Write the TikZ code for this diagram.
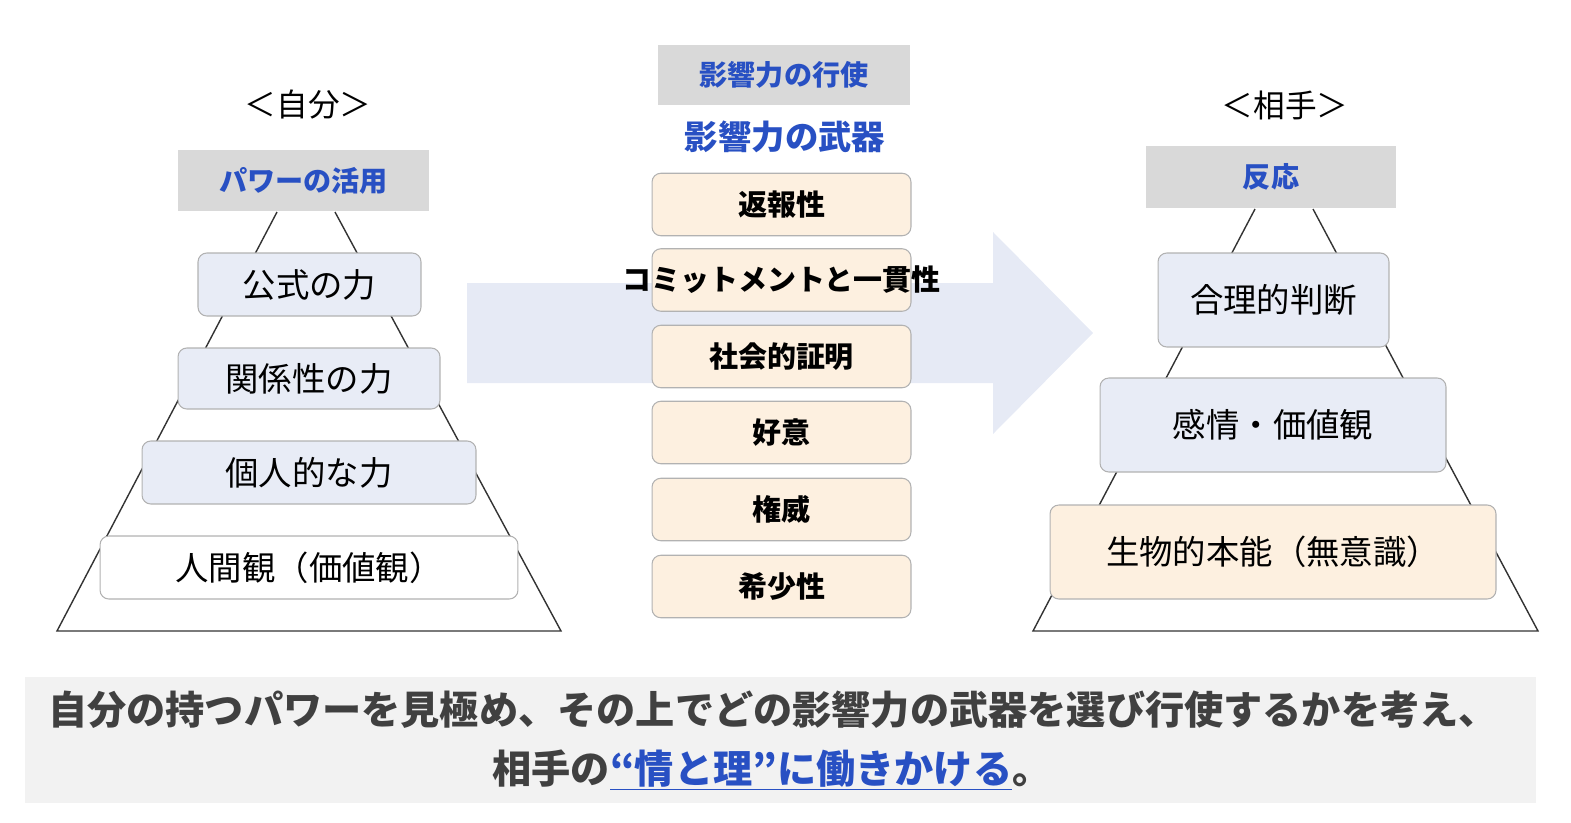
\documentclass[tikz,border=0pt]{standalone}
\usepackage{fontspec}
\setmainfont{Noto Sans CJK JP}
\definecolor{hblue}{RGB}{40,80,195}
\definecolor{lbl}{RGB}{232,236,246}
\definecolor{arr}{RGB}{230,234,245}
\definecolor{org}{RGB}{253,240,224}
\begin{document}
\begin{tikzpicture}[x=0.02cm,y=-0.02cm,
 txt/.style={font=\fontsize{#1}{#1}\selectfont},
 btxt/.style={font=\fontsize{#1}{#1}\selectfont\bfseries},
 hdr/.style={fill=gray!30,draw=none,text=hblue,inner sep=0pt,btxt=16},
 bx/.style={draw=gray!60,rounded corners=5pt,line width=0.6pt},
 bl/.style={bx,fill=lbl},
 og/.style={bx,fill=org},
 tri/.style={draw=black!80,line width=0.8pt}]
\useasboundingbox (0,0) rectangle (1571,822);
% big arrow
\fill[arr] (467,283) -- (993,283) -- (993,232) -- (1093,333) -- (993,434) -- (993,383) -- (467,383) -- cycle;
% left
\node[txt=18] (lt) at (308,105) {＜自分＞};
\draw[tri] (277,212) -- (57,631) -- (561,631) -- (335,212);
\node[hdr,minimum width=5.02cm,minimum height=1.22cm] (lh) at (303.5,180.5) {パワーの活用};
\node[bl,minimum width=4.46cm,minimum height=1.26cm,txt=19] (l1) at (309.5,284.5) {公式の力};
\node[bl,minimum width=5.24cm,minimum height=1.22cm,txt=19] (l2) at (309,378.5) {関係性の力};
\node[bl,minimum width=6.68cm,minimum height=1.26cm,txt=19] (l3) at (309,472.5) {個人的な力};
\node[bx,fill=white,minimum width=8.36cm,minimum height=1.26cm,txt=19] (l4) at (309,567.5) {人間観（価値観）};
% center
\node[hdr,minimum width=5.04cm,minimum height=1.2cm] (ch) at (784,75) {影響力の行使};
\node[btxt=19,text=hblue] (cw) at (785,137) {影響力の武器};
\foreach \n/\y/\t in {c1/204.5/返報性,c2/280/コミットメントと一貫性,c3/356.5/社会的証明,c4/432.5/好意,c5/509.5/権威,c6/586.5/希少性}{
 \node[og,minimum width=5.18cm,minimum height=1.25cm] (\n) at (781.5,\y) {};
 \node[btxt=16.5] at (\n) {\t};
}
% right
\node[txt=18] (rt) at (1285,105) {＜相手＞};
\draw[tri] (1255,209) -- (1033,631) -- (1538,631) -- (1313,209);
\node[hdr,minimum width=5cm,minimum height=1.24cm] (rh) at (1271,177) {反応};
\node[bl,minimum width=4.62cm,minimum height=1.88cm,txt=19] (r1) at (1273.5,300) {合理的判断};
\node[bl,minimum width=6.92cm,minimum height=1.88cm,txt=19] (r2) at (1273,425) {感情・価値観};
\node[og,minimum width=8.92cm,minimum height=1.88cm,txt=19] (r3) at (1273,552) {生物的本能（無意識）};
% bottom
\fill[gray!10] (25,677) rectangle (1536,803);
\node[btxt=22.3,text=black!75] (b1) at (773,710) {自分の持つパワーを見極め、その上でどの影響力の武器を選び行使するかを考え、};
\node[btxt=22.3,text=black!75] (b2) at (772,770) {相手の\textcolor{hblue}{\underline{“情と理”に働きかける}}。};
\end{tikzpicture}
\end{document}
